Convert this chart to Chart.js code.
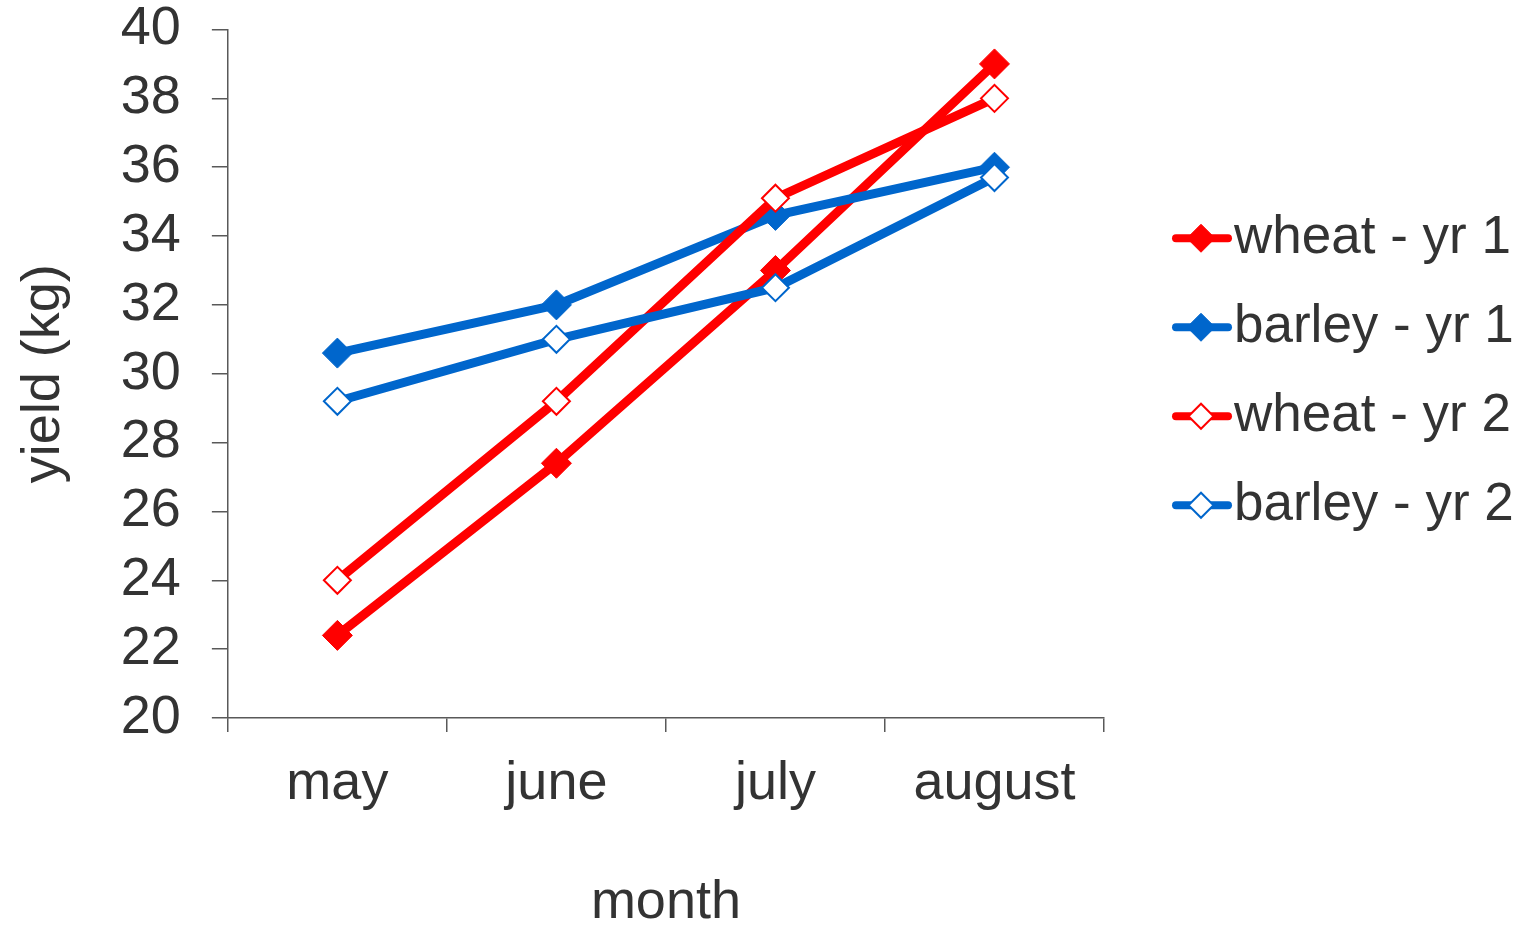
<!DOCTYPE html>
<html>
<head>
<meta charset="utf-8">
<script src="https://cdn.jsdelivr.net/npm/chart.js@4/dist/chart.umd.min.js"></script>
<style>
  html, body { margin: 0; padding: 0; background: #ffffff; }
  #wrap { width: 1528px; height: 927px; }
</style>
</head>
<body>
<div id="wrap"><canvas id="c" width="1528" height="927"></canvas></div>
<script>
// Monthly yield per crop and year (kg)
const months = ['may', 'june', 'july', 'august'];
const wheatYr1 = [22.4, 27.4, 33.0, 39.0];
const barleyYr1 = [30.6, 32.0, 34.6, 36.0];
const wheatYr2 = [24.0, 29.2, 35.1, 38.0];
const barleyYr2 = [29.2, 31.0, 32.5, 35.7];
const seriesNames = ['wheat - yr 1', 'barley - yr 1', 'wheat - yr 2', 'barley - yr 2'];

const RED = '#ff0000';
const BLUE = '#0066cc';
const TEXT = '#333333';
const AXIS = '#595959';
const FONT = '"Liberation Sans", Arial, sans-serif';
const FONT_SIZE = 54;
const LINE_WIDTH = 9;

function series(label, data, color, filled, order) {
  return {
    label, data, order,
    borderColor: color,
    backgroundColor: color,
    borderWidth: LINE_WIDTH,
    tension: 0,
    pointStyle: 'rectRot',
    pointRadius: filled ? 15 : 13.5,
    pointHoverRadius: filled ? 15 : 13.5,
    pointBorderWidth: filled ? 1 : 2,
    pointBackgroundColor: filled ? color : '#ffffff',
    pointBorderColor: color
  };
}

// Legend at the right: short line with its diamond marker, then the label
const sideLegend = {
  id: 'sideLegend',
  afterDraw(chart) {
    const { ctx, chartArea } = chart;
    const cx = chartArea.right + 97;
    const midY = (chartArea.top + chartArea.bottom) / 2 - 2;
    const gap = 89;
    const list = chart.data.datasets;
    ctx.save();
    list.forEach((ds, i) => {
      const y = midY + (i - (list.length - 1) / 2) * gap;
      ctx.strokeStyle = ds.borderColor;
      ctx.lineWidth = 8;
      ctx.lineCap = 'round';
      ctx.beginPath();
      ctx.moveTo(cx - 25, y);
      ctx.lineTo(cx + 27, y);
      ctx.stroke();
      const r = ds.pointRadius - 1;
      ctx.beginPath();
      ctx.moveTo(cx - r, y);
      ctx.lineTo(cx, y - r);
      ctx.lineTo(cx + r, y);
      ctx.lineTo(cx, y + r);
      ctx.closePath();
      ctx.fillStyle = ds.pointBackgroundColor;
      ctx.fill();
      ctx.lineWidth = ds.pointBorderWidth;
      ctx.lineCap = 'butt';
      ctx.strokeStyle = ds.pointBorderColor;
      ctx.stroke();
      ctx.fillStyle = TEXT;
      ctx.font = '53px ' + FONT;
      ctx.textAlign = 'left';
      ctx.textBaseline = 'middle';
      ctx.fillText(ds.label, cx + 33, y);
    });
    ctx.restore();
  }
};

new Chart(document.getElementById('c'), {
  type: 'line',
  data: {
    labels: months,
    datasets: [
      series(seriesNames[0], wheatYr1, RED, true, 4),
      series(seriesNames[1], barleyYr1, BLUE, true, 3),
      series(seriesNames[2], wheatYr2, RED, false, 2),
      series(seriesNames[3], barleyYr2, BLUE, false, 1)
    ]
  },
  options: {
    responsive: false,
    devicePixelRatio: 1,
    animation: false,
    events: [],
    layout: { padding: { top: 29.5, right: 424, bottom: 0, left: 0 } },
    plugins: { legend: { display: false }, tooltip: { enabled: false } },
    scales: {
      x: {
        offset: true,
        border: { display: true, color: AXIS, width: 1.5 },
        grid: { display: true, offset: true, drawOnChartArea: false, drawTicks: true, tickLength: 14, color: AXIS, lineWidth: 1.5 },
        ticks: { color: TEXT, font: { family: FONT, size: FONT_SIZE, lineHeight: 1 }, padding: 25, maxRotation: 0 },
        title: { display: true, text: 'month', color: TEXT, font: { family: FONT, size: FONT_SIZE, lineHeight: 0.9 }, padding: { top: 42.4, bottom: 0 } }
      },
      y: {
        min: 20,
        max: 40,
        border: { display: true, color: AXIS, width: 1.5 },
        grid: { display: true, drawOnChartArea: false, drawTicks: true, tickLength: 16, color: AXIS, lineWidth: 1.5 },
        ticks: { stepSize: 2, color: TEXT, font: { family: FONT, size: FONT_SIZE, lineHeight: 1 }, padding: 31 },
        title: { display: true, text: 'yield (kg)', color: TEXT, font: { family: FONT, size: FONT_SIZE }, padding: { top: 12, bottom: 13 } },
        // vertical room only needs half a label above and below the plot
        afterFit(scale) {
          scale.paddingTop = FONT_SIZE / 2;
          scale.paddingBottom = FONT_SIZE / 2;
        }
      }
    }
  },
  plugins: [sideLegend]
});
</script>
</body>
</html>
